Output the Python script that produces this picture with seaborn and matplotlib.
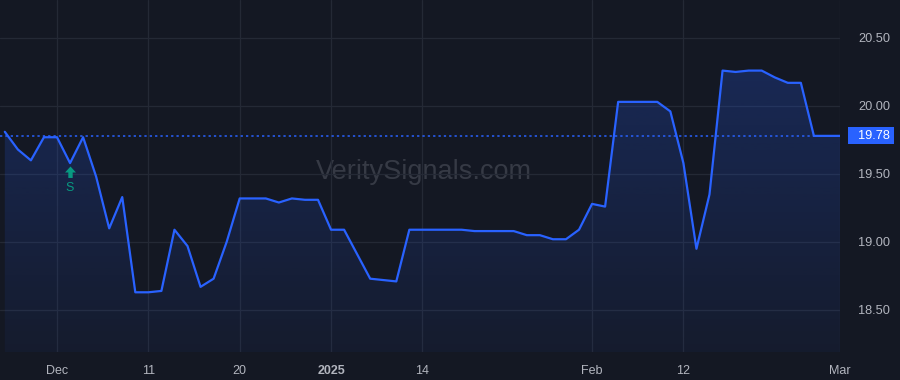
import numpy as np
import pandas as pd
import matplotlib
matplotlib.use("Agg")
import matplotlib.pyplot as plt
import seaborn as sns
from matplotlib.path import Path
from matplotlib.patches import Rectangle

# ---------------- data ----------------
dates = [
    "2024-11-25", "2024-11-26", "2024-11-27", "2024-11-29",
    "2024-12-02", "2024-12-03", "2024-12-04", "2024-12-05", "2024-12-06",
    "2024-12-09", "2024-12-10", "2024-12-11", "2024-12-12", "2024-12-13",
    "2024-12-16", "2024-12-17", "2024-12-18", "2024-12-19", "2024-12-20",
    "2024-12-23", "2024-12-24", "2024-12-26", "2024-12-27",
    "2024-12-30", "2024-12-31",
    "2025-01-02", "2025-01-03",
    "2025-01-06", "2025-01-07", "2025-01-08", "2025-01-10",
    "2025-01-13", "2025-01-14", "2025-01-15", "2025-01-16", "2025-01-17",
    "2025-01-21", "2025-01-22", "2025-01-23", "2025-01-24",
    "2025-01-27", "2025-01-28", "2025-01-29", "2025-01-30", "2025-01-31",
    "2025-02-03", "2025-02-04", "2025-02-05", "2025-02-06", "2025-02-07",
    "2025-02-10", "2025-02-11", "2025-02-12", "2025-02-13", "2025-02-14",
    "2025-02-18", "2025-02-19", "2025-02-20", "2025-02-21",
    "2025-02-24", "2025-02-25", "2025-02-26", "2025-02-27", "2025-02-28",
    "2025-03-03",
]
prices = [
    19.81, 19.68, 19.60, 19.77,
    19.77, 19.58, 19.77, 19.48, 19.10,
    19.33, 18.63, 18.63, 18.64, 19.09,
    18.97, 18.67, 18.73, 19.00, 19.32,
    19.32, 19.32, 19.29, 19.32,
    19.31, 19.31,
    19.09, 19.09,
    18.91, 18.73, 18.72, 18.71,
    19.09, 19.09, 19.09, 19.09, 19.09,
    19.08, 19.08, 19.08, 19.08,
    19.05, 19.05, 19.02, 19.02, 19.09,
    19.28, 19.26, 20.03, 20.03, 20.03,
    20.03, 19.96, 19.58, 18.95, 19.35,
    20.26, 20.25, 20.26, 20.26,
    20.21, 20.17, 20.17, 19.78, 19.78,
    19.78,
]
last_price = 19.78
signal_date = "2024-12-03"
signal_label = "S"
tick_dates = ["2024-12-02", "2024-12-11", "2024-12-20", "2025-01-02",
              "2025-01-14", "2025-02-03", "2025-02-12", "2025-03-03"]
tick_labels = ["Dec", "11", "20", "2025", "14", "Feb", "12", "Mar"]
y_ticks = [18.50, 19.00, 19.50, 20.00, 20.50]
watermark = "VeritySignals.com"

# ---------------- style ----------------
BG = "#141823"
GRID = "#242935"
LINE = "#2962ff"
TXT = "#b2b5be"
TEAL = "#089981"

sns.set_theme(style="dark")
plt.rcParams["font.family"] = ["Liberation Sans", "DejaVu Sans"]

df = pd.DataFrame({"date": dates, "price": prices})
df["idx"] = np.arange(len(df))

W, H = 900, 380
fig = plt.figure(figsize=(W / 100, H / 100), dpi=100, facecolor=BG)
ax = fig.add_axes([0, 28 / H, 840 / W, 352 / H])
ax.set_facecolor(BG)

n = len(df)
xmax = n - 1
xmin = xmax - 840 / 13.05
ymin, ymax = 18.191, 20.779
ax.set_xlim(xmin, xmax)
ax.set_ylim(ymin, ymax)

# gradient fill under the line
poly = ax.fill_between(df["idx"], df["price"], ymin, color="none", lw=0)
grad = np.zeros((256, 1, 4))
rgb = matplotlib.colors.to_rgb(LINE)
grad[:, 0, :3] = rgb
grad[:, 0, 3] = np.linspace(0.05, 0.27, 256)[:, None].ravel()
im = ax.imshow(grad, aspect="auto", origin="lower",
               extent=[xmin, xmax, ymin, ymax], zorder=1)
path = poly.get_paths()[0]
im.set_clip_path(path, transform=ax.transData)

sns.lineplot(data=df, x="idx", y="price", ax=ax, color=LINE, lw=1.6,
             zorder=3, legend=False)

# last price dotted line
ax.axhline(last_price, color=LINE, lw=1.1, ls=(0, (1.5, 2)), zorder=2)

# grid
tick_pos = [dates.index(d) for d in tick_dates]
ax.set_xticks(tick_pos)
ax.set_xticklabels(tick_labels)
ax.set_yticks(y_ticks)
ax.set_yticklabels([f"{v:.2f}" for v in y_ticks])
ax.grid(True, color=GRID, lw=0.9)
ax.set_axisbelow(True)
for s in ax.spines.values():
    s.set_visible(False)
ax.set_xlabel("")
ax.set_ylabel("")
ax.tick_params(axis="x", length=0, pad=9, labelsize=9, colors=TXT)
ax.tick_params(axis="y", length=0, pad=13, labelsize=9.2, colors=TXT,
               left=False, right=True, labelleft=False, labelright=True)
for lbl in ax.get_xticklabels():
    if lbl.get_text() == "2025":
        lbl.set_fontweight("bold")

# watermark
ax.text(0.505, 0.512, watermark, transform=ax.transAxes, ha="center",
        va="center", fontsize=19.5, color="#363a45", zorder=0.5)

# signal marker
si = dates.index(signal_date)
sy = prices[si]
arrow = Path([(-0.5, 0.0), (0.0, 0.55), (0.5, 0.0), (0.2, 0.0), (0.2, -0.5),
              (-0.2, -0.5), (-0.2, 0.0), (-0.5, 0.0)], closed=True)
ax.annotate("", xy=(si, sy), xytext=(0, 0), textcoords="offset points")
off = matplotlib.transforms.offset_copy(ax.transData, fig=fig, x=0, y=-6.5,
                                        units="points")
ax.scatter([si], [sy], marker=arrow, s=75, color=TEAL, transform=off,
           zorder=4, linewidths=0)
ax.annotate(signal_label, xy=(si, sy), xytext=(0, -18),
            textcoords="offset points", ha="center", va="center",
            fontsize=9, color=TEAL, zorder=4)

# last price label box on the price scale
yfrac = (last_price - ymin) / (ymax - ymin)
ypix = 28 + yfrac * 352
fig.patches.append(Rectangle((848 / W, (ypix - 8.5) / H), 46 / W, 17 / H,
                             transform=fig.transFigure, facecolor=LINE,
                             edgecolor="none", zorder=5))
fig.text(858 / W, ypix / H, f"{last_price:.2f}", ha="left", va="center",
         fontsize=9.2, color="white", zorder=6)

fig.savefig("out.png", dpi=100, facecolor=BG)
